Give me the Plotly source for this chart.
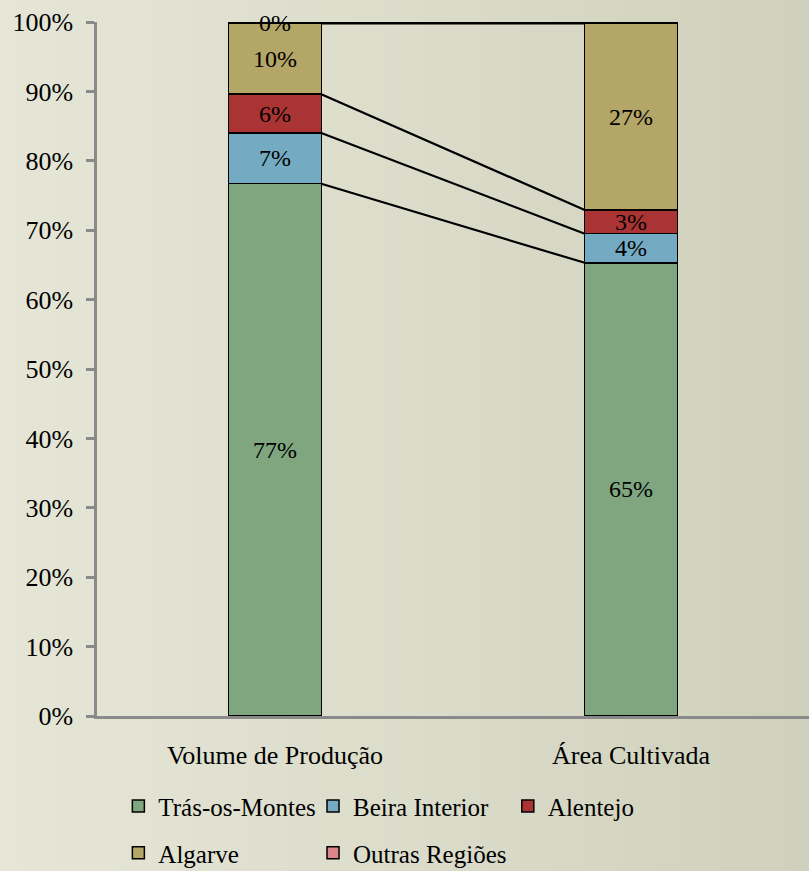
import plotly.graph_objects as go

categories = ["Volume de Produção", "Área Cultivada"]
series_names = ["Trás-os-Montes", "Beira Interior", "Alentejo", "Algarve", "Outras Regiões"]
tras_os_montes = [76.7, 65.3]
beira_interior = [7.3, 4.2]
alentejo = [5.6, 3.4]
algarve = [10.2, 26.9]
outras_regioes = [0.2, 0.2]
y_ticks = list(range(0, 101, 10))
y_tick_labels = ["%d%%" % v for v in y_ticks]

series_values = [tras_os_montes, beira_interior, alentejo, algarve, outras_regioes]
colors = ["#7fa67f", "#74abc2", "#aa3434", "#b4a666", "#da868c"]
legend_ids = ["legend", "legend2", "legend3", "legend4", "legend5"]
# legend placement (paper coords): row 1 = three items, row 2 = two items
legend_pos = [(0.030, -0.1300), (0.3034, -0.1300), (0.577, -0.1300),
              (0.030, -0.1975), (0.3034, -0.1975)]

FONT = "Liberation Serif, Times New Roman, serif"
BAR_W = 0.26
xpos = list(range(len(categories)))

fig = go.Figure()

# background gradient bands (decoration)
n_bands = 30
c0 = (0xe6, 0xe7, 0xd7)
c1 = (0xcd, 0xce, 0xb9)
for i in range(n_bands):
    t = i / (n_bands - 1)
    c = tuple(int(round(a + (b - a) * t)) for a, b in zip(c0, c1))
    fig.add_shape(type="rect", xref="paper", yref="paper",
                  x0=-0.2 + i * 1.4 / n_bands, x1=-0.2 + (i + 1) * 1.4 / n_bands + 0.002,
                  y0=-0.3, y1=1.1, fillcolor="rgb(%d,%d,%d)" % c,
                  line=dict(width=0), layer="below")

for name, vals, col, lg in zip(series_names, series_values, colors, legend_ids):
    fig.add_trace(go.Bar(
        name=name, x=xpos, y=vals, width=BAR_W,
        marker=dict(color=col, line=dict(color="black", width=1.5)),
        texttemplate="%{y:.0f}%", textposition="inside",
        insidetextanchor="middle", textangle=0, cliponaxis=False,
        textfont=dict(family=FONT, size=24, color="black"),
        legend=lg, hoverinfo="skip",
    ))

# series lines connecting the stacked segment tops
cum = [0.0] * len(categories)
for vals in series_values:
    cum = [a + b for a, b in zip(cum, vals)]
    fig.add_trace(go.Scatter(
        x=[xpos[0] + BAR_W / 2, xpos[1] - BAR_W / 2], y=[cum[0], cum[1]],
        mode="lines", line=dict(color="black", width=2.2),
        showlegend=False, hoverinfo="skip", cliponaxis=False,
    ))

legend_common = dict(orientation="h", xanchor="left", yanchor="middle",
                     font=dict(family=FONT, size=25, color="black"),
                     bgcolor="rgba(0,0,0,0)", traceorder="normal",
                     itemclick=False, itemdoubleclick=False)
legends = {}
for lg, (lx, ly) in zip(legend_ids, legend_pos):
    legends[lg] = dict(x=lx, y=ly, **legend_common)

fig.update_layout(
    width=809, height=871,
    margin=dict(l=97, r=0, t=22, b=155, autoexpand=False),
    barmode="stack",
    paper_bgcolor="#d9dac7",
    plot_bgcolor="rgba(0,0,0,0)",
    font=dict(family=FONT, size=26, color="black"),
    uniformtext=dict(minsize=24, mode="show"),
    xaxis=dict(range=[-0.5, 1.5], tickvals=xpos, ticktext=categories,
               showline=True, linecolor="#8a8a8a", linewidth=2.5,
               showgrid=False, zeroline=False, ticks="",
               ticklabelstandoff=14,
               tickfont=dict(family=FONT, size=26, color="black"),
               fixedrange=True),
    yaxis=dict(range=[0, 100], tickvals=y_ticks, ticktext=y_tick_labels,
               showline=True, linecolor="#8a8a8a", linewidth=2.5,
               ticks="outside", ticklen=8, tickcolor="#8a8a8a", tickwidth=2.5,
               showgrid=False, zeroline=False, ticklabelstandoff=8,
               tickfont=dict(family=FONT, size=26, color="black"),
               fixedrange=True),
    **legends,
)

fig.write_html("out.html", config={"displayModeBar": False},
               post_script="document.body.style.margin='0';document.body.style.overflow='hidden';")
